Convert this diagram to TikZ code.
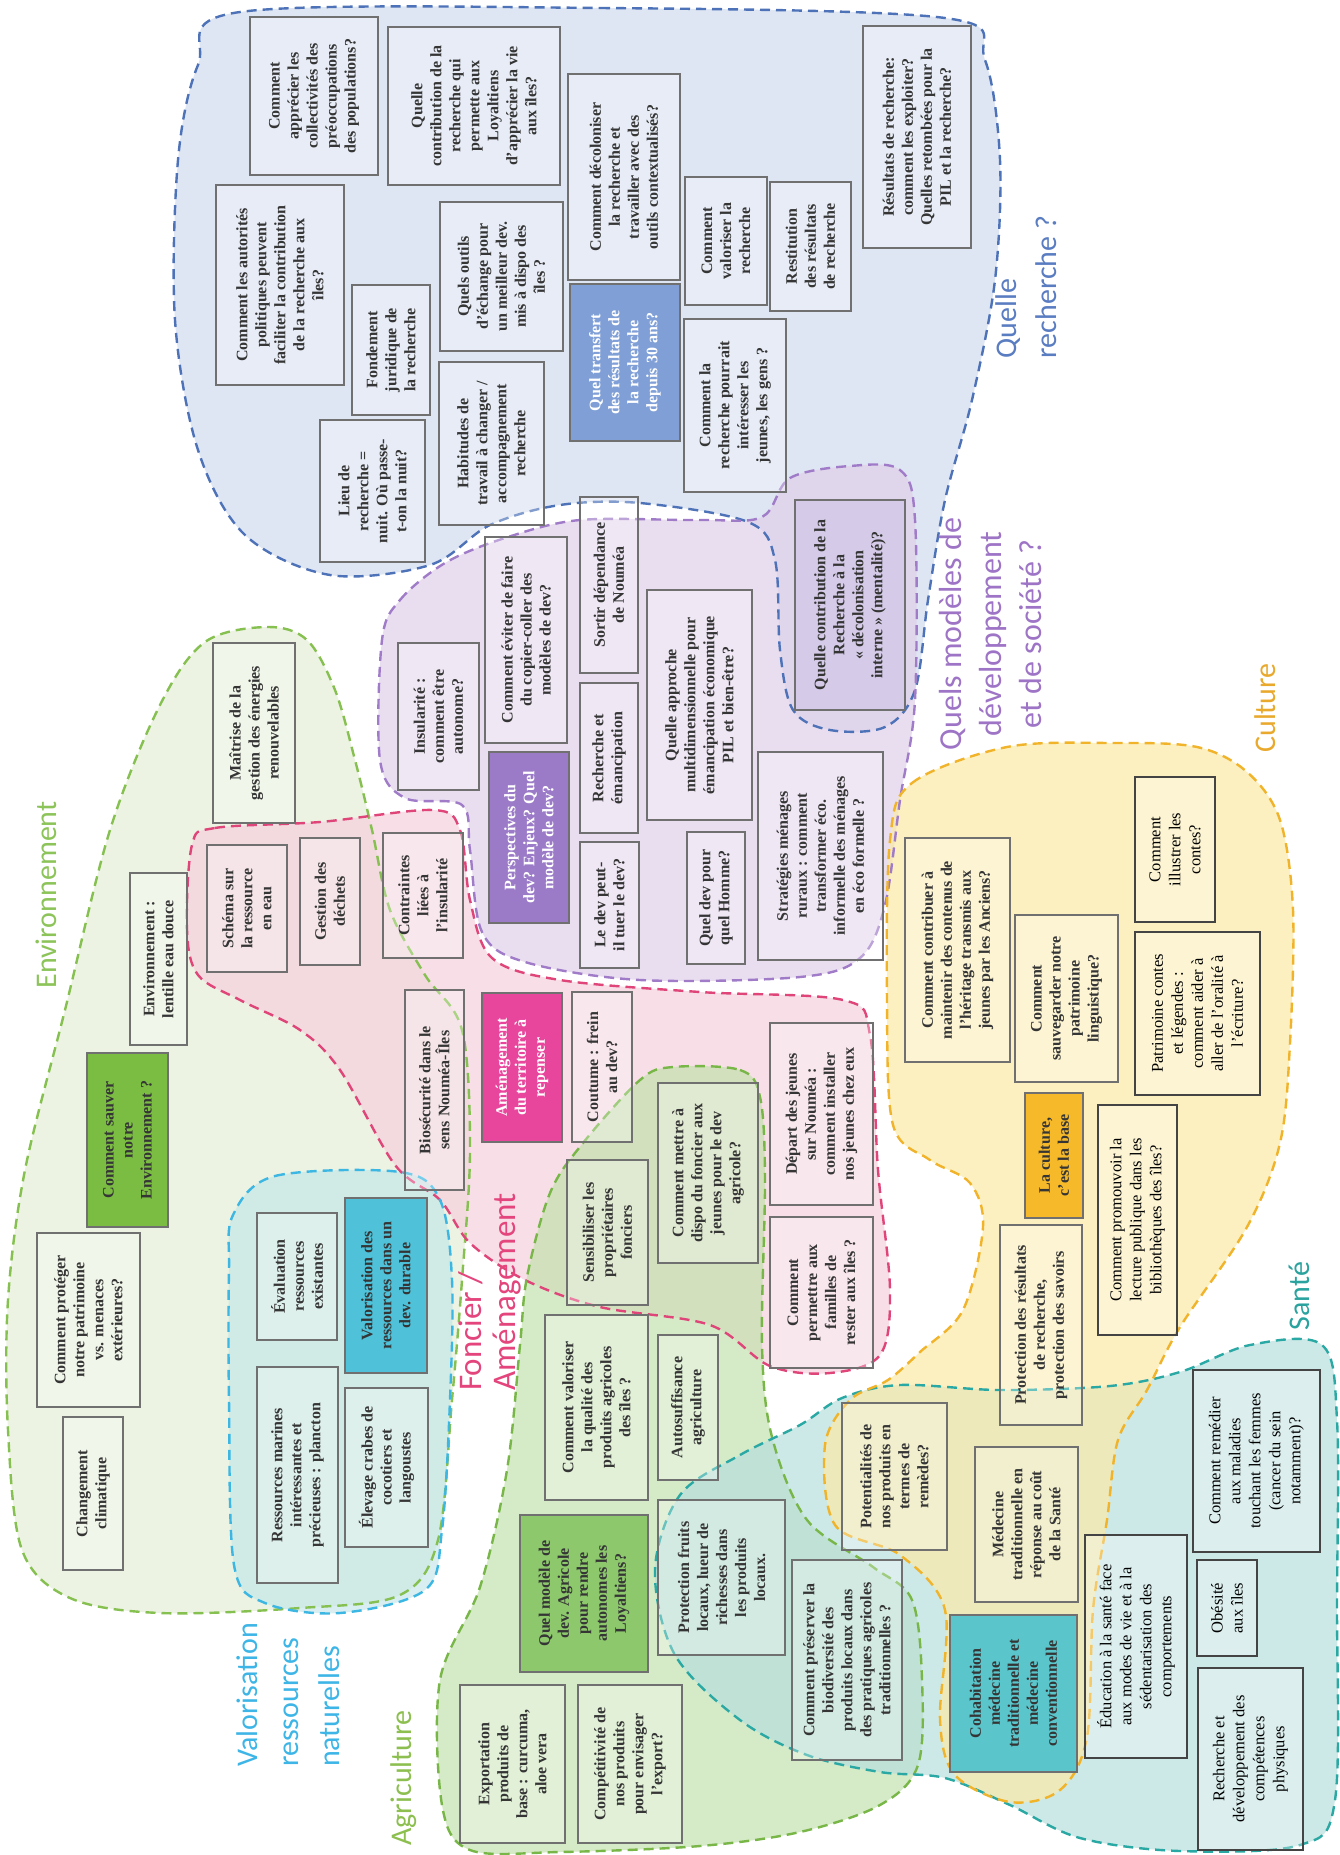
\documentclass[tikz,border=0pt]{standalone}
\usepackage{fontspec}
\setmainfont{Liberation Serif}
\newfontfamily\titlefont{Carlito}
\definecolor{envF}{HTML}{E4EFD6}\definecolor{envL}{HTML}{86C050}
\definecolor{pinkF}{HTML}{F5D0DE}\definecolor{pinkL}{HTML}{E0457A}
\definecolor{cyanF}{HTML}{BEE4E8}\definecolor{cyanL}{HTML}{3CB6E3}
\definecolor{agriF}{HTML}{C4E2AE}\definecolor{agriL}{HTML}{78B648}
\definecolor{blueF}{HTML}{D0DBEF}\definecolor{blueL}{HTML}{4D72B8}
\definecolor{purpF}{HTML}{E1D0EA}\definecolor{purpL}{HTML}{A07CC8}
\definecolor{santF}{HTML}{B8E0DE}\definecolor{santL}{HTML}{2AA8A4}
\definecolor{cultF}{HTML}{FBEAA8}\definecolor{cultL}{HTML}{F0B32A}
\definecolor{bxline}{HTML}{707070}\definecolor{bxtext}{HTML}{353535}
\definecolor{clrline}{HTML}{444444}
\definecolor{qblue}{HTML}{7F9FD6}\definecolor{qpurple}{HTML}{9B7BC8}
\definecolor{qlav}{HTML}{CFC4E6}
\definecolor{fpinkbox}{HTML}{E8469C}\definecolor{egreenbox}{HTML}{7BBD43}
\definecolor{vcyanbox}{HTML}{4FC2D9}\definecolor{agreenbox}{HTML}{8DC86D}
\definecolor{corange}{HTML}{F6B92A}\definecolor{steal}{HTML}{5AC6CC}
\definecolor{tblue}{HTML}{5A7DC2}\definecolor{tpurp}{HTML}{9E74C6}
\definecolor{tenv}{HTML}{8DC45A}\definecolor{tpink}{HTML}{E3457C}
\definecolor{tcyan}{HTML}{3DB5E6}\definecolor{tagri}{HTML}{8CBF4F}
\definecolor{tcult}{HTML}{E9A92D}\definecolor{tsant}{HTML}{2AA39F}
\newcommand{\bxfont}{\bfseries\fontsize{16}{19}\selectfont}
\newcommand{\clrfont}{\mdseries\fontsize{16.5}{20}\selectfont}
\tikzset{
  rgn/.style={dash pattern=on 10pt off 6pt, line width=2.4pt},
  bx/.style={rotate=90, draw=bxline, line width=1.4pt, fill=white, fill opacity=0.3,
    text opacity=1, text=bxtext, align=center, inner sep=1.5pt, font=\bxfont},
  clr/.style={draw=clrline, line width=1.2pt, text=black, font=\clrfont},
  ttl/.style={rotate=90, inner sep=0pt},
}
\newcommand{\qbox}[7][]{%
  \pgfmathsetmacro\qw{#6-#4}\pgfmathsetmacro\qh{#5-#3}%
  \pgfmathsetmacro\qcx{(#3+#5)/2}\pgfmathsetmacro\qcy{(#4+#6)/2}%
  \node[bx,minimum width=\qw pt,minimum height=\qh pt,#1] (#2) at (\qcx,\qcy) {#7};}
\begin{document}
\begin{tikzpicture}[x=1pt,y=-1pt]
\useasboundingbox (0,0) rectangle (1339,1855);
\fill[white] (0,0) rectangle (1339,1855);
% ---------- region fills
\fill[envF, fill opacity=0.7] plot[smooth cycle, tension=0.55] coordinates {(205,642) (267,627) (307,640) (335,690) (355,760) (372,830) (390,910) (425,975) (462,1030) (470,1150) (462,1280) (452,1400) (438,1540) (400,1595) (300,1608) (160,1613) (70,1598) (22,1550) (8,1430) (8,1300) (25,1170) (65,1010) (110,830) (160,705)};
\fill[pinkF, fill opacity=0.7] plot[smooth cycle, tension=0.55] coordinates {(192,845) (215,828) (320,822) (433,810) (460,830) (470,900) (492,958) (560,980) (700,992) (843,1000) (870,1035) (878,1170) (890,1290) (880,1355) (830,1373) (770,1366) (710,1325) (600,1307) (525,1280) (470,1243) (440,1200) (395,1165) (340,1070) (300,1030) (240,1000) (198,975) (187,930)};
\fill[cyanF, fill opacity=0.6] plot[smooth cycle, tension=0.55] coordinates {(233,1215) (275,1176) (400,1172) (440,1200) (452,1280) (450,1400) (442,1530) (425,1590) (340,1613) (265,1603) (234,1565) (229,1400) (229,1270)};
\fill[agriF, fill opacity=0.7] plot[smooth cycle, tension=0.55] coordinates {(673,1067) (740,1070) (760,1097) (765,1180) (762,1345) (772,1437) (807,1520) (873,1567) (912,1600) (922,1680) (918,1765) (880,1805) (800,1832) (700,1846) (560,1852) (470,1850) (442,1805) (440,1680) (480,1587) (507,1470) (520,1345) (527,1277) (550,1193) (583,1143) (640,1080)};
\fill[blueF, fill opacity=0.7] plot[smooth cycle, tension=0.55] coordinates {(240,12) (600,8) (945,18) (985,60) (1000,160) (995,280) (972,400) (945,500) (928,600) (915,690) (885,727) (830,730) (793,710) (780,650) (775,560) (748,522) (640,503) (560,505) (490,525) (430,565) (330,575) (245,535) (198,450) (175,320) (178,160) (198,65)};
\fill[purpF, fill opacity=0.7] plot[smooth cycle, tension=0.55] coordinates {(382,640) (400,600) (445,563) (505,538) (580,520) (700,520) (762,517) (790,478) (850,466) (900,470) (915,520) (915,700) (900,800) (885,905) (860,958) (800,977) (640,980) (525,962) (482,932) (470,850) (462,805) (405,798) (380,760)};
\fill[santF, fill opacity=0.7] plot[smooth cycle, tension=0.55] coordinates {(680,1495) (740,1455) (800,1425) (842,1398) (900,1385) (1000,1390) (1110,1386) (1180,1372) (1250,1345) (1322,1345) (1337,1420) (1337,1600) (1335,1800) (1300,1845) (1180,1851) (1080,1838) (1010,1805) (945,1778) (880,1772) (807,1755) (740,1720) (675,1655) (655,1570)};
\fill[cultF, fill opacity=0.7] plot[smooth cycle, tension=0.55] coordinates {(890,840) (912,783) (1007,747) (1113,743) (1197,747) (1247,772) (1280,820) (1293,910) (1290,1043) (1280,1143) (1247,1227) (1180,1327) (1147,1390) (1118,1440) (1107,1520) (1093,1610) (1087,1737) (1060,1790) (1010,1802) (955,1775) (940,1720) (945,1610) (900,1555) (835,1525) (825,1445) (850,1400) (888,1380) (920,1352) (963,1310) (983,1227) (970,1183) (930,1160) (893,1125) (887,1000)};
% ---------- region outlines
\draw[rgn, draw=envL] plot[smooth cycle, tension=0.55] coordinates {(205,642) (267,627) (307,640) (335,690) (355,760) (372,830) (390,910) (425,975) (462,1030) (470,1150) (462,1280) (452,1400) (438,1540) (400,1595) (300,1608) (160,1613) (70,1598) (22,1550) (8,1430) (8,1300) (25,1170) (65,1010) (110,830) (160,705)};
\draw[rgn, draw=pinkL] plot[smooth cycle, tension=0.55] coordinates {(192,845) (215,828) (320,822) (433,810) (460,830) (470,900) (492,958) (560,980) (700,992) (843,1000) (870,1035) (878,1170) (890,1290) (880,1355) (830,1373) (770,1366) (710,1325) (600,1307) (525,1280) (470,1243) (440,1200) (395,1165) (340,1070) (300,1030) (240,1000) (198,975) (187,930)};
\draw[rgn, draw=cyanL] plot[smooth cycle, tension=0.55] coordinates {(233,1215) (275,1176) (400,1172) (440,1200) (452,1280) (450,1400) (442,1530) (425,1590) (340,1613) (265,1603) (234,1565) (229,1400) (229,1270)};
\draw[rgn, draw=agriL] plot[smooth cycle, tension=0.55] coordinates {(673,1067) (740,1070) (760,1097) (765,1180) (762,1345) (772,1437) (807,1520) (873,1567) (912,1600) (922,1680) (918,1765) (880,1805) (800,1832) (700,1846) (560,1852) (470,1850) (442,1805) (440,1680) (480,1587) (507,1470) (520,1345) (527,1277) (550,1193) (583,1143) (640,1080)};
\draw[rgn, draw=blueL] plot[smooth cycle, tension=0.55] coordinates {(240,12) (600,8) (945,18) (985,60) (1000,160) (995,280) (972,400) (945,500) (928,600) (915,690) (885,727) (830,730) (793,710) (780,650) (775,560) (748,522) (640,503) (560,505) (490,525) (430,565) (330,575) (245,535) (198,450) (175,320) (178,160) (198,65)};
\draw[rgn, draw=purpL] plot[smooth cycle, tension=0.55] coordinates {(382,640) (400,600) (445,563) (505,538) (580,520) (700,520) (762,517) (790,478) (850,466) (900,470) (915,520) (915,700) (900,800) (885,905) (860,958) (800,977) (640,980) (525,962) (482,932) (470,850) (462,805) (405,798) (380,760)};
\draw[rgn, draw=santL] plot[smooth cycle, tension=0.55] coordinates {(680,1495) (740,1455) (800,1425) (842,1398) (900,1385) (1000,1390) (1110,1386) (1180,1372) (1250,1345) (1322,1345) (1337,1420) (1337,1600) (1335,1800) (1300,1845) (1180,1851) (1080,1838) (1010,1805) (945,1778) (880,1772) (807,1755) (740,1720) (675,1655) (655,1570)};
\draw[rgn, draw=cultL] plot[smooth cycle, tension=0.55] coordinates {(890,840) (912,783) (1007,747) (1113,743) (1197,747) (1247,772) (1280,820) (1293,910) (1290,1043) (1280,1143) (1247,1227) (1180,1327) (1147,1390) (1118,1440) (1107,1520) (1093,1610) (1087,1737) (1060,1790) (1010,1802) (955,1775) (940,1720) (945,1610) (900,1555) (835,1525) (825,1445) (850,1400) (888,1380) (920,1352) (963,1310) (983,1227) (970,1183) (930,1160) (893,1125) (887,1000)};
% ---------- Quelle recherche
\qbox{b1}{250}{17}{378}{175}{Comment\\apprécier les\\collectivités des\\préoccupations\\des populations?}
\qbox{b2}{388}{27}{560}{185}{Quelle\\contribution de la\\recherche qui\\permette aux\\Loyaltiens\\d'apprécier la vie\\aux îles?}
\qbox{b3}{216}{185}{344}{385}{Comment les autorités\\politiques peuvent\\faciliter la contribution\\de la recherche aux\\îles?}
\qbox{b4}{352}{285}{430}{415}{Fondement\\juridique de\\la recherche}
\qbox{b5}{440}{202}{563}{351}{Quels outils\\d'échange pour\\un meilleur dev.\\mis à dispo des\\îles ?}
\qbox{b6}{568}{74}{680}{280}{Comment décoloniser\\la recherche et\\travailler avec des\\outils contextualisés?}
\qbox[fill=qblue,fill opacity=1,text=white]{b7}{570}{284}{680}{441}{Quel transfert\\des résultats de\\la recherche\\depuis 30 ans?}
\qbox{b8}{685}{177}{767}{305}{Comment\\valoriser la\\recherche}
\qbox{b9}{770}{182}{851}{311}{Restitution\\des résultats\\de recherche}
\qbox{b10}{863}{26}{971}{248}{Résultats de recherche:\\comment les exploiter?\\Quelles retombées pour la\\PIL et la recherche?}
\qbox{b11}{684}{319}{786}{492}{Comment la\\recherche pourrait\\intéresser les\\jeunes, les gens ?}
\qbox{b12}{439}{362}{544}{525}{Habitudes de\\travail à changer /\\accompagnement\\recherche}
\qbox{b13}{320}{420}{425}{562}{Lieu de\\recherche =\\nuit. Où passe-\\t-on la nuit?}
\qbox[fill=qlav,fill opacity=0.6]{b14}{795}{500}{905}{710}{Quelle contribution de la\\Recherche à la\\« décolonisation\\interne » (mentalité)?}
% ---------- Quels modeles
\qbox{p15}{398}{643}{479}{790}{Insularité :\\comment être\\autonome?}
\qbox{p16}{485}{537}{567}{743}{Comment éviter de faire\\du copier-coller des\\modèles de dev?}
\qbox{p17}{580}{497}{638}{673}{Sortir dépendance\\de Nouméa}
\qbox[fill=qpurple,fill opacity=1,text=white]{p18}{489}{752}{569}{923}{Perspectives du\\dev? Enjeux? Quel\\modèle de dev?}
\qbox{p19}{580}{683}{638}{833}{Recherche et\\émancipation}
\qbox{p20}{580}{842}{639}{968}{Le dev peut-\\il tuer le dev?}
\qbox{p21}{647}{590}{752}{820}{Quelle approche\\multidimensionnelle pour\\émancipation économique\\PIL et bien-être?}
\qbox{p22}{687}{832}{745}{964}{Quel dev pour\\quel Homme?}
\qbox{p23}{758}{752}{883}{960}{Stratégies ménages\\ruraux : comment\\transformer éco.\\informelle des ménages\\en éco formelle ?}
% ---------- Environnement
\qbox{e24}{213}{643}{295}{823}{Maîtrise de la\\gestion des énergies\\renouvelables}
\qbox{e25}{130}{873}{187}{1045}{Environnement :\\lentille eau douce}
\qbox[fill=egreenbox,fill opacity=1]{e26}{87}{1053}{168}{1227}{Comment sauver\\notre\\Environnement ?}
\qbox{e27}{37}{1233}{140}{1407}{Comment protéger\\notre patrimoine\\vs. menaces\\extérieures?}
\qbox{e28}{63}{1417}{123}{1570}{Changement\\climatique}
% ---------- Foncier
\qbox{f29}{207}{845}{287}{972}{Schéma sur\\la ressource\\en eau}
\qbox{f30}{300}{838}{360}{965}{Gestion des\\déchets}
\qbox{f31}{383}{833}{463}{958}{Contraintes\\liées à\\l'insularité}
\qbox{f32}{405}{990}{464}{1190}{Biosécurité dans le\\sens Nouméa-Îles}
\qbox[fill=fpinkbox,fill opacity=1,text=white]{f33}{482}{993}{562}{1142}{Aménagement\\du territoire à\\repenser}
\qbox{f34}{572}{992}{632}{1142}{Coutume : frein\\au dev?}
\qbox{f35}{770}{1023}{873}{1205}{Départ des jeunes\\sur Nouméa :\\comment installer\\nos jeunes chez eux}
\qbox{f36}{770}{1217}{873}{1368}{Comment\\permettre aux\\familles de\\rester aux îles ?}
% ---------- Valorisation
\qbox{v37}{257}{1213}{337}{1340}{Évaluation\\ressources\\existantes}
\qbox[fill=vcyanbox,fill opacity=1]{v38}{345}{1198}{427}{1373}{Valorisation des\\ressources dans un\\dev. durable}
\qbox{v39}{257}{1367}{338}{1583}{Ressources marines\\intéressantes et\\précieuses : plancton}
\qbox{v40}{345}{1388}{428}{1547}{Élevage crabes de\\cocotiers et\\langoustes}
% ---------- Agriculture
\qbox{a41}{567}{1160}{648}{1305}{Sensibiliser les\\propriétaires\\fonciers}
\qbox{a42}{658}{1083}{758}{1263}{Comment mettre à\\dispo du foncier aux\\jeunes pour le dev\\agricole?}
\qbox{a43}{545}{1315}{648}{1500}{Comment valoriser\\la qualité des\\produits agricoles\\des îles ?}
\qbox{a44}{658}{1335}{718}{1480}{Autosuffisance\\agriculture}
\qbox[fill=agreenbox,fill opacity=1]{a45}{520}{1515}{648}{1672}{Quel modèle de\\dev. Agricole\\pour rendre\\autonomes les\\Loyaltiens?}
\qbox{a46}{658}{1500}{785}{1655}{Protection fruits\\locaux, lueur de\\richesses dans\\les produits\\locaux.}
\qbox{a47}{460}{1685}{565}{1843}{Exportation\\produits de\\base : curcuma,\\aloe vera}
\qbox{a48}{578}{1685}{682}{1843}{Compétitivité de\\nos produits\\pour envisager\\l'export?}
\qbox{a49}{792}{1560}{902}{1760}{Comment préserver la\\biodiversité des\\produits locaux dans\\des pratiques agricoles\\traditionnelles ?}
% ---------- Culture
\qbox{c50}{905}{838}{1010}{1062}{Comment contribuer à\\maintenir des contenus de\\l'héritage transmis aux\\jeunes par les Anciens?}
\qbox{c51}{1015}{915}{1118}{1082}{Comment\\sauvegarder notre\\patrimoine\\linguistique?}
\qbox[clr]{c52}{1135}{777}{1215}{922}{Comment\\illustrer les\\contes?}
\qbox[clr]{c53}{1135}{932}{1260}{1095}{Patrimoine contes\\et légendes :\\comment aider à\\aller de l'oralité à\\l'écriture?}
\qbox[fill=corange,fill opacity=1]{c54}{1025}{1093}{1083}{1218}{La culture,\\c'est la base}
\qbox[clr]{c55}{1098}{1105}{1177}{1335}{Comment promouvoir la\\lecture publique dans les\\bibliothèques des îles?}
\qbox{c56}{1000}{1225}{1082}{1425}{Protection des résultats\\de recherche,\\protection des savoirs}
% ---------- Sante
\qbox{s57}{842}{1403}{947}{1550}{Potentialités de\\nos produits en\\termes de\\remèdes?}
\qbox{s58}{975}{1447}{1078}{1602}{Médecine\\traditionnelle en\\réponse au coût\\de la Santé}
\qbox[fill=steal,fill opacity=1]{s59}{950}{1615}{1077}{1772}{Cohabitation\\médecine\\traditionnelle et\\médecine\\conventionnelle}
\qbox[clr]{s60}{1085}{1535}{1187}{1758}{Éducation à la santé face\\aux modes de vie et à la\\sédentarisation des\\comportements}
\qbox[clr]{s61}{1193}{1370}{1320}{1552}{Comment remédier\\aux maladies\\touchant les femmes\\(cancer du sein\\notamment)?}
\qbox[clr]{s62}{1197}{1560}{1257}{1656}{Obésité\\aux îles}
\qbox[clr]{s63}{1198}{1668}{1303}{1850}{Recherche et\\développement des\\compétences\\physiques}
% ---------- titles
\node[ttl, text=tblue, align=left, font=\titlefont\fontsize{30}{40}\selectfont] (tRech) at (1026,287) {Quelle\\recherche ?};
\node[ttl, text=tpurp, align=center, font=\titlefont\fontsize{32}{40}\selectfont] (tMod) at (990,634) {Quels modèles de\\développement\\et de société ?};
\node[ttl, text=tenv, font=\titlefont\fontsize{30}{36}\selectfont] (tEnv) at (46,895) {Environnement};
\node[ttl, text=tpink, align=left, font=\titlefont\fontsize{33}{34}\selectfont] (tFon) at (490,1292) {Foncier /\\Aménagement};
\node[ttl, text=tcyan, align=left, font=\titlefont\fontsize{30}{41}\selectfont] (tVal) at (288,1695) {Valorisation\\ressources\\naturelles};
\node[ttl, text=tagri, font=\titlefont\fontsize{30}{36}\selectfont] (tAgr) at (404,1778) {Agriculture};
\node[ttl, text=tcult, font=\titlefont\fontsize{30}{36}\selectfont] (tCul) at (1265,708) {Culture};
\node[ttl, text=tsant, font=\titlefont\fontsize{30}{36}\selectfont] (tSan) at (1299,1296) {Santé};
\end{tikzpicture}
\end{document}
